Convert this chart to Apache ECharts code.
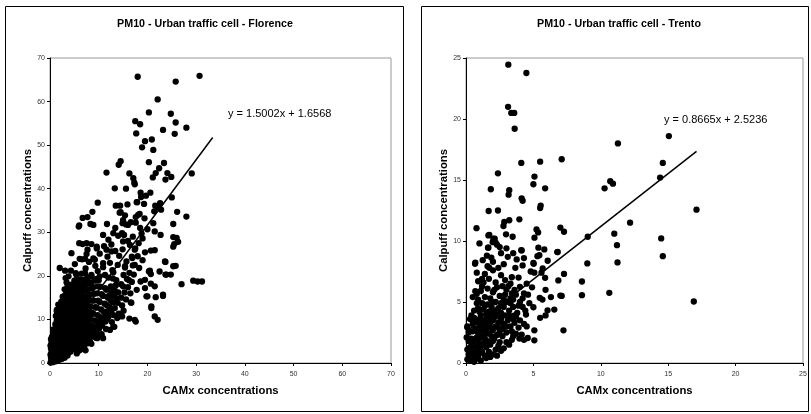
<!DOCTYPE html>
<html>
<head>
<meta charset="utf-8">
<script src="https://cdn.jsdelivr.net/npm/echarts/dist/echarts.min.js"></script>
<style>
  html, body { margin: 0; padding: 0; background: #fff; }
  #chart { width: 811px; height: 414px; }
</style>
</head>
<body>
<div id="chart"></div>
<script>
// titles and axis names
var titles = ['PM10 - Urban traffic cell - Florence', 'PM10 - Urban traffic cell - Trento'];
var xName = 'CAMx concentrations';
var yName = 'Calpuff concentrations';

// axis ranges [min, max, step]
var florenceAxis = [0, 70, 10];
var trentoAxis = [0, 25, 5];

// linear fits: [slope, intercept] and x range of the trendline
var florenceFit = [1.5002, 1.6568];
var florenceFitRange = [0, 33.4];
var trentoFit = [0.8665, 2.5236];
var trentoFitRange = [0, 17.1];

// Florence: scattered upper points
var florenceUpper = [
  [18,65.7],[25.8,64.6],[30.7,65.9],[22.1,60.5],[20.3,57.5],[24.8,57.2],[17.5,55.5],[18.5,54.8],
  [25.8,55.2],[28,54],[23.2,53.5],[17.7,52.7],[25.6,52.6],[19.5,50.9],[20.9,51.3],[18.9,49.5],
  [21.2,48.9],[20.3,46.1],[23.4,45.9],[22.4,44.7],[14.5,46.3],[14.1,45.5],[11.6,43.7],[16.3,43.5],
  [21.7,43.6],[24.1,43.6],[24.9,42.7],[23.7,42.1],[29.1,43.5],[17.1,42.4],[17.4,41],[17.3,41.4],
  [21.1,42.6],[13.3,40.1],[15.6,40],[18.6,39.1],[20.6,39.1],[19.7,38.4],[18.7,38.1],[25,38],
  [17.9,36.9],[19.3,36.5],[9.8,36.8],[13.5,36.1],[14.4,36.1],[15.9,36.4],[21.6,36.1],[22.6,36.7],
  [8.7,34.7],[14.5,34.6],[18.4,34.2],[21.4,34.8],[22.2,35.7],[22.8,35.2],[26.1,34.7],[17.8,36.9]
];

// Florence: scattered middle points
var florenceMid = [
  [7.7,33.5],[14.3,34.5],[15.4,33.9],[28.0,33.6],[6.0,31.6],[8.3,31.9],[8.9,31.7],[11.7,31.9],
  [14.9,32.1],[15.6,31.8],[17.6,32.2],[21.2,32.1],[25.3,31.9],[21.5,30.2],[22.7,29.4],[25.3,28.9],
  [26.3,27.8],[25.5,27.3],[18.8,29.7],[10.9,29.4],[13.0,29.8],[14.8,29.8],[12.0,28.3],[15.0,27.9],
  [16.4,27.1],[7.5,27.5],[6.7,27.3],[8.5,27.3],[9.6,26.7],[11.6,26.0],[12.6,25.6],[19.5,25.4],
  [20.7,25.8],[21.5,25.9],[17.4,26.0],[4.4,25.2],[7.2,23.9],[9.2,23.7],[10.9,22.9],[15.7,23.3],
  [16.9,24.1],[15.4,22.2],[17.4,22.5],[23.7,23.2],[25.3,22.2],[22.5,21.0],[2.0,21.8],[3.1,21.2],
  [5.3,20.6],[3.8,19.9],[8.5,20.2],[10.2,19.9],[20.3,21.0],[20.7,20.4],[23.7,20.3],[24.8,20.3],
  [27.0,18.1],[29.4,18.9],[30.3,18.7],[31.2,18.7],[18.6,18.7],[19.5,17.2],[20.7,18.2],[21.5,17.6],
  [23.2,15.4],[21.7,15.1],[20.0,15.3],[16.6,13.9],[20.8,12.6],[21.5,10.7],[22.1,9.9],[17.4,9.9],
  [16.3,10.2],[14.1,11.3],[14.8,10.7],[13.2,8.3],[11.7,10.1],[11.3,10.7],[9.7,6.1],[9.4,5.8],
  [6.1,7.6],[5.9,2.8],[3.8,2.4],[12.3,7.6],[13.0,8.4],[10.9,5.7],[9.7,5.7],[16.7,13.8],
  [17.6,9.5],[14.6,10.9],[5.9,31.3],[6.7,33.3],[16.0,31.7],[18.1,34.0],[26.0,28.7],[25.3,26.7],
  [23.6,23.3],[23.9,20.3],[25.8,22.3],[19.5,19.1],[20.5,21.2],[19.8,15.3],[23.2,15.7],[20.8,13.0],
  [3.4,18.5],[7.7,26.0],[6.0,27.5],[6.1,23.9],[1.4,12.2],
  [12.1,15.4],[12.5,17.6],[12.0,19.6],[12.8,21.3],[12.3,23.0],[11.8,24.4],[13.3,16.6],[13.6,19.0],
  [13.0,20.8],[13.9,22.5],[14.2,24.6],[14.6,18.1],[15.1,20.2],[15.4,21.9],[15.8,19.3],[16.3,20.7],
  [14.9,26.1],[13.4,25.7],[12.6,27.2],[11.1,26.8],[10.2,25.1],[9.6,26.3],[8.9,24.0],[8.0,23.2],
  [7.5,25.0],[6.6,23.8],[5.1,22.7],[4.3,21.2],[3.2,19.5],[16.8,24.4],[17.5,26.3],[18.2,27.5],
  [17.0,29.0],[19.0,28.6],[18.5,31.0],[20.0,30.7],[16.0,28.0],[15.2,29.4],[14.0,29.2],[13.4,31.0],
  [19.4,33.2],[17.6,33.5],[16.6,32.3],[15.0,32.8],[11.3,20.2],[10.9,22.0],[9.8,21.1],[9.3,22.3],
  [7.3,21.7],[6.5,20.5],[5.4,20.3],[10.0,19.0]
];

// Florence: lower-right fringe of the cloud
var florenceFringe = [
  [5.5,2.2],[6.3,3.1],[7.0,3.6],[7.6,4.5],[8.2,5.0],[8.8,6.2],[9.5,7.0],[10.1,7.9],[10.7,8.6],[11.4,9.5],
  [12.0,10.6],[12.6,11.7],[13.3,12.6],[13.9,13.8],[14.6,15.0],[15.3,16.2],[16.0,17.4],[16.8,18.6],
  [6.8,4.2],[8.0,6.0],[9.0,6.8],[10.5,9.6],[11.8,11.8],[12.9,13.9],[14.0,16.2],[15.0,17.6],[16.2,19.0],
  [17.2,20.3],[13.6,14.9],[11.0,10.3],[9.9,8.5],[12.2,12.8],[14.8,13.2],[15.6,14.6],[13.0,11.0],
  [10.6,6.6],[11.5,7.8],[8.5,4.4],[7.3,2.9],[12.7,9.4],[13.8,10.3],[15.1,12.0],[16.5,16.0],[17.8,16.8],
  [18.3,21.8],[17.0,22.4],[19.0,23.6],[18.0,24.5]
];

// Florence: dense cloud near the origin
var florenceDense = [
  [0.1,0.1],[0.3,0.6],[0.2,1.2],[0.1,1.9],[0.3,2.5],[0.2,3.3],[0.1,4.0],[0.3,4.7],[0.2,5.5],[0.4,6.0],
  [0.6,0.2],[0.8,0.9],[0.7,1.6],[0.9,2.4],[0.6,3.1],[0.8,3.8],[0.7,4.6],[0.9,5.3],[0.6,6.1],[0.8,6.9],[0.7,7.7],
  [1.2,0.4],[1.3,1.2],[1.1,2.0],[1.4,2.8],[1.2,3.6],[1.3,4.5],[1.1,5.4],[1.4,6.2],[1.2,7.1],[1.3,8.0],
  [1.1,8.9],[1.4,9.8],[1.2,10.8],[1.4,11.9],
  [1.8,0.7],[1.9,1.5],[1.7,2.3],[2.0,3.1],[1.8,4.0],[1.9,4.9],[1.7,5.8],[2.0,6.6],[1.8,7.5],[1.9,8.4],
  [1.7,9.4],[2.0,10.3],[1.8,11.2],[1.9,12.3],[1.7,13.4],
  [2.4,0.9],[2.5,1.8],[2.3,2.7],[2.6,3.6],[2.4,4.5],[2.5,5.4],[2.3,6.3],[2.6,7.2],[2.4,8.1],[2.5,9.1],
  [2.3,10.0],[2.6,10.9],[2.4,11.9],[2.5,12.9],[2.3,14.0],[2.6,15.2],
  [3.0,1.2],[3.1,2.1],[2.9,3.0],[3.2,4.0],[3.0,4.9],[3.1,5.9],[2.9,6.8],[3.2,7.7],[3.0,8.7],[3.1,9.6],
  [2.9,10.6],[3.2,11.5],[3.0,12.5],[3.1,13.5],[2.9,14.6],[3.2,15.7],[3.0,16.9],
  [3.6,1.7],[3.7,2.7],[3.5,3.7],[3.8,4.7],[3.6,5.6],[3.7,6.6],[3.5,7.6],[3.8,8.5],[3.6,9.5],[3.7,10.5],
  [3.5,11.4],[3.8,12.4],[3.6,13.4],[3.7,14.4],[3.5,15.4],[3.8,16.5],[3.6,17.6],
  [4.2,2.6],[4.3,3.6],[4.1,4.6],[4.4,5.6],[4.2,6.6],[4.3,7.6],[4.1,8.6],[4.4,9.6],[4.2,10.6],[4.3,11.6],
  [4.1,12.6],[4.4,13.6],[4.2,14.6],[4.3,15.7],[4.1,16.8],[4.4,18.0],
  [4.8,3.2],[4.9,4.2],[4.7,5.2],[5.0,6.2],[4.8,7.2],[4.9,8.3],[4.7,9.3],[5.0,10.3],[4.8,11.3],[4.9,12.4],
  [4.7,13.4],[5.0,14.4],[4.8,15.5],[4.9,16.6],[4.7,17.8],[5.0,18.9],
  [5.4,3.9],[5.5,5.0],[5.3,6.0],[5.6,7.1],[5.4,8.1],[5.5,9.2],[5.3,10.2],[5.6,11.3],[5.4,12.3],[5.5,13.4],
  [5.3,14.5],[5.6,15.6],[5.4,16.7],[5.5,17.8],[5.3,19.0],
  [6.0,4.4],[6.1,5.6],[5.9,6.7],[6.2,7.8],[6.0,8.9],[6.1,10.0],[5.9,11.1],[6.2,12.2],[6.0,13.3],[6.1,14.4],
  [5.9,15.5],[6.2,16.7],[6.0,17.9],[6.1,19.2],
  [6.6,5.0],[6.7,6.2],[6.5,7.3],[6.8,8.5],[6.6,9.6],[6.7,10.8],[6.5,11.9],[6.8,13.1],[6.6,14.2],[6.7,15.4],
  [6.5,16.6],[6.8,17.8],[6.6,19.1],
  [7.2,5.6],[7.3,6.9],[7.1,8.1],[7.4,9.3],[7.2,10.5],[7.3,11.7],[7.1,12.9],[7.4,14.1],[7.2,15.3],[7.3,16.6],
  [7.1,17.9],[7.4,19.2],[7.2,20.6],
  [7.8,6.5],[7.9,7.8],[7.7,9.1],[8.0,10.4],[7.8,11.7],[7.9,13.0],[7.7,14.3],[8.0,15.6],[7.8,16.9],[7.9,18.2],[7.7,19.6],
  [8.4,7.3],[8.5,8.7],[8.3,10.1],[8.6,11.5],[8.4,12.9],[8.5,14.3],[8.3,15.7],[8.6,17.1],[8.4,18.5],[8.5,19.9],
  [9.0,8.2],[9.2,9.8],[8.9,11.3],[9.3,12.8],[9.0,14.3],[9.1,15.9],[8.9,17.4],[9.2,18.9],
  [9.7,9.3],[9.8,11.0],[9.6,12.7],[9.9,14.3],[9.7,16.0],[9.8,17.6],[9.6,19.3],
  [10.3,10.5],[10.5,12.3],[10.2,14.0],[10.6,15.8],[10.3,17.5],
  [11.0,11.8],[11.2,13.6],[10.9,15.4],[11.3,17.2],
  [11.7,13.2],[11.9,15.0],[11.6,16.8],
  [12.4,14.4],[12.6,16.3],[13.1,15.5],[13.5,17.8],[12.9,19.4]
];

// Trento: scattered upper points
var trentoUpper = [
  [3.14,24.45],[4.48,23.77],[3.12,21.0],[3.36,20.5],[3.58,20.5],[3.61,19.2],[11.27,18.0],[15.05,18.6],
  [14.6,16.4],[4.1,16.4],[5.5,16.5],[7.1,16.7],[2.37,15.55],[5.08,15.28],[5.0,14.65],[10.7,14.9],
  [10.9,14.7],[10.28,14.32],[14.4,15.2],[1.84,14.24],[3.21,14.16],[3.16,13.8],[5.87,14.32],[4.13,13.5],
  [4.2,13.3],[5.54,12.9],[5.5,12.7],[2.37,12.5],[17.1,12.57]
];

// Trento: scattered middle points
var trentoMid = [
  [1.68,12.46],[2.84,11.56],[3.21,11.7],[3.96,11.78],[2.78,11.23],[0.78,11.05],[2.97,10.55],[3.46,10.35],
  [1.73,10.5],[2.13,10.2],[1.98,9.9],[1.63,9.45],[2.5,9.5],[4.1,9.25],[5.23,10.95],[5.35,10.7],
  [5.08,10.27],[7.0,11.1],[7.27,10.76],[9.03,10.35],[11.0,10.6],[11.2,9.66],[12.17,11.5],[14.48,10.21],
  [14.6,8.76],[11.24,8.24],[9.0,8.16],[8.6,6.68],[8.6,5.56],[10.63,5.75],[16.9,5.04],[7.27,7.3],
  [6.85,6.77],[7.0,5.53],[7.1,5.5],[6.8,9.1],[6.06,8.38],[5.81,9.31],[5.37,9.45],[5.3,8.76],
  [5.69,7.75],[5.6,7.4],[5.87,6.98],[5.07,7.4],[5.0,8.2],[7.23,2.68],[6.55,4.38],[6.05,4.32],
  [5.47,5.34],[5.67,5.2],[5.5,3.7],[5.0,4.57],[4.45,3.97],[5.07,2.68],[5.07,1.86],[4.58,2.05],
  [4.13,2.33],[3.96,2.0],[4.13,9.23],[3.76,8.49],[3.66,7.8],[3.4,7.03],[3.14,6.3],[4.0,6.24],
  [0.69,8.22],[0.8,7.4],[1.19,6.9],[1.24,8.43],[1.55,8.8],[1.88,8.63],[1.6,7.94],[1.73,7.8],
  [0.69,5.88],[0.8,5.67],[1.19,6.3],[0.42,3.56],[2.03,10.19],[1.66,10.46],[2.2,9.86],[6.77,9.09],
  [5.44,8.84],[5.02,8.13],[1.66,9.45],[0.67,8.13],
  [1.3,6.6],[1.7,6.9],[2.2,6.6],[2.6,7.2],[2.9,6.8],[3.3,6.5],[3.6,6.0],[2.4,7.8],[2.0,8.3],[2.8,8.1],
  [3.1,8.7],[3.5,9.0],[2.6,9.0],[1.4,7.3],[0.9,6.7],[1.0,9.8],[2.3,9.7],[3.0,9.4],[3.9,7.0],[4.5,6.5],
  [4.8,7.5],[4.3,8.6],[4.6,5.6],[4.0,5.0],[2.0,7.6],[2.7,6.3],[2.1,6.0],[3.5,5.2],[4.3,5.7],[4.9,6.2],
  [4.2,8.0],[4.7,4.9],[4.2,4.6],[3.7,3.8],[4.3,3.2],[5.9,6.0],[6.3,5.4],[5.9,3.9]
];

// Trento: dense cloud near the origin
var trentoDense = [
  [0.1,0.3],[0.3,0.2],[0.5,0.4],[0.7,0.3],[0.9,0.5],[0.2,0.7],[0.4,0.9],[0.6,0.8],[0.8,1.0],[1.0,0.8],
  [1.2,0.9],[0.1,1.1],[0.3,1.3],[0.5,1.5],[0.7,1.3],[0.9,1.6],[1.1,1.4],[1.3,1.6],[1.5,1.3],[0.2,1.8],
  [0.4,2.0],[0.6,1.9],[0.8,2.1],[1.0,2.0],[1.2,2.2],[1.4,2.0],[1.6,1.8],[1.8,1.5],
  [0.2,2.5],[0.5,2.6],[0.7,2.8],[0.9,2.5],[1.1,2.7],[1.3,2.9],[1.5,2.6],[1.7,2.4],[1.9,2.2],[2.1,2.0],
  [2.3,2.3],[1.8,2.9],[2.0,2.7],[2.2,3.0],[2.5,2.6],[2.7,2.2],[3.0,2.5],
  [0.5,3.2],[0.8,3.4],[1.0,3.1],[1.2,3.5],[1.4,3.3],[1.6,3.6],[1.8,3.3],[2.0,3.5],[2.2,3.8],[2.4,3.3],
  [2.6,3.6],[2.8,3.2],[3.1,3.5],[3.3,3.0],[1.1,3.9],[1.5,4.0],[2.9,3.9],[3.6,3.3],[3.9,2.9],
  [0.6,4.3],[0.9,4.5],[1.3,4.4],[1.7,4.2],[1.9,4.6],[2.1,4.3],[2.4,4.5],[2.6,4.1],[2.8,4.6],[3.2,4.3],
  [3.5,4.6],[1.2,4.9],[1.6,4.8],[2.2,5.0],[3.0,5.0],[3.8,4.1],
  [0.9,5.2],[1.4,5.4],[1.8,5.3],[2.5,5.5],[2.9,5.6],[3.3,5.3],[3.7,5.6],[1.1,5.9],[2.0,5.8],[4.2,5.3],
  [3.4,1.9],[4.3,1.9],[3.7,2.4],[3.2,1.5],[2.5,1.7],[2.8,1.2],[2.2,1.1],[1.7,0.9],[1.4,0.6],[4.0,3.5],
  [4.5,3.0],[3.6,3.9],[4.4,4.3],
  [1.5,0.4],[1.8,0.5],[2.0,0.7],[2.3,0.6],[0.3,0.5],[0.6,0.1],[1.1,0.2],[0.05,2.1],[0.1,2.9],[0.3,3.6],
  [0.1,3.0],[0.4,3.9],[2.6,1.0],[3.0,1.7],[3.5,2.2],[2.7,2.8],[3.4,2.6],[3.2,3.9],[3.5,3.6],[2.5,3.9],
  [2.0,4.0],[1.4,4.7],[0.8,4.9],[1.9,5.0],[2.6,4.9],[3.3,4.9],[3.9,4.7],[0.5,5.4],[1.6,6.1],[2.3,6.2],
  [3.0,6.0],[3.4,5.7],[2.8,5.2],[0.6,3.7],[1.0,4.2],[1.8,3.9],[2.4,4.0],[3.0,3.0],[2.4,2.9],[1.6,3.0],
  [1.0,3.6],[0.8,2.6],[1.4,2.4],[2.0,1.8],[2.4,1.4],[1.0,1.2],[0.4,1.7]
];

function fitLine(fit, range) {
  return range.map(function (x) { return [x, fit[0] * x + fit[1]]; });
}
function fitText(fit) {
  return 'y = ' + fit[0].toFixed(4) + 'x + ' + fit[1].toFixed(4);
}

var font = 'Liberation Sans';

function makeX(idx, ax) {
  return {
    gridIndex: idx, type: 'value', min: ax[0], max: ax[1], interval: ax[2],
    name: xName, nameLocation: 'middle', nameGap: 22,
    nameTextStyle: { fontSize: 11.3, fontWeight: 'bold', color: '#000', fontFamily: font },
    axisLine: { show: true, onZero: false, lineStyle: { color: '#000', width: 1 } },
    axisTick: { show: true, length: 3, lineStyle: { color: '#000' } },
    axisLabel: { fontSize: 7, color: '#333', margin: 8, fontFamily: font },
    splitLine: { show: false }
  };
}
function makeY(idx, ax) {
  return {
    gridIndex: idx, type: 'value', min: ax[0], max: ax[1], interval: ax[2],
    name: yName, nameLocation: 'middle', nameGap: 17, nameRotate: 90,
    nameTextStyle: { fontSize: 11.3, fontWeight: 'bold', color: '#000', fontFamily: font },
    axisLine: { show: true, onZero: false, lineStyle: { color: '#000', width: 1 } },
    axisTick: { show: true, length: 3, lineStyle: { color: '#000' } },
    axisLabel: { fontSize: 7, color: '#333', margin: 5, fontFamily: font },
    splitLine: { show: false }
  };
}

var dot = { color: '#000', opacity: 1 };
var chart = echarts.init(document.getElementById('chart'), null, { renderer: 'canvas' });

var option = {
  animation: false,
  backgroundColor: '#fff',
  title: [
    { text: titles[0], left: 205, top: 19, textAlign: 'center', padding: 0,
      textStyle: { fontSize: 10.7, fontWeight: 'bold', color: '#000', fontFamily: font } },
    { text: titles[1], left: 619, top: 19, textAlign: 'center', padding: 0,
      textStyle: { fontSize: 10.7, fontWeight: 'bold', color: '#000', fontFamily: font } }
  ],
  grid: [
    { left: 50, top: 58, width: 341, height: 305, show: true, borderColor: '#999', borderWidth: 1 },
    { left: 466, top: 58, width: 337, height: 305, show: true, borderColor: '#999', borderWidth: 1 }
  ],
  xAxis: [makeX(0, florenceAxis), makeX(1, trentoAxis)],
  yAxis: [makeY(0, florenceAxis), makeY(1, trentoAxis)],
  graphic: [
    { type: 'rect', shape: { x: 5.5, y: 6.5, width: 398, height: 405 },
      style: { fill: null, stroke: '#000', lineWidth: 1 }, silent: true },
    { type: 'rect', shape: { x: 421.5, y: 6.5, width: 387, height: 405 },
      style: { fill: null, stroke: '#000', lineWidth: 1 }, silent: true },
    { type: 'text', left: 228, top: 108,
      style: { text: fitText(florenceFit), font: '11px "Liberation Sans"', fill: '#000' } },
    { type: 'text', left: 664, top: 114,
      style: { text: fitText(trentoFit), font: '11px "Liberation Sans"', fill: '#000' } }
  ],
  series: [
    { type: 'scatter', xAxisIndex: 0, yAxisIndex: 0, symbolSize: 6.3, itemStyle: dot,
      data: florenceDense.concat(florenceFringe, florenceMid, florenceUpper) },
    { type: 'line', xAxisIndex: 0, yAxisIndex: 0, showSymbol: false, symbol: 'none',
      lineStyle: { color: '#000', width: 1.5 }, data: fitLine(florenceFit, florenceFitRange), z: 3 },
    { type: 'scatter', xAxisIndex: 1, yAxisIndex: 1, symbolSize: 6.3, itemStyle: dot,
      data: trentoDense.concat(trentoMid, trentoUpper) },
    { type: 'line', xAxisIndex: 1, yAxisIndex: 1, showSymbol: false, symbol: 'none',
      lineStyle: { color: '#000', width: 1.5 }, data: fitLine(trentoFit, trentoFitRange), z: 3 }
  ]
};

chart.setOption(option);
</script>
</body>
</html>
